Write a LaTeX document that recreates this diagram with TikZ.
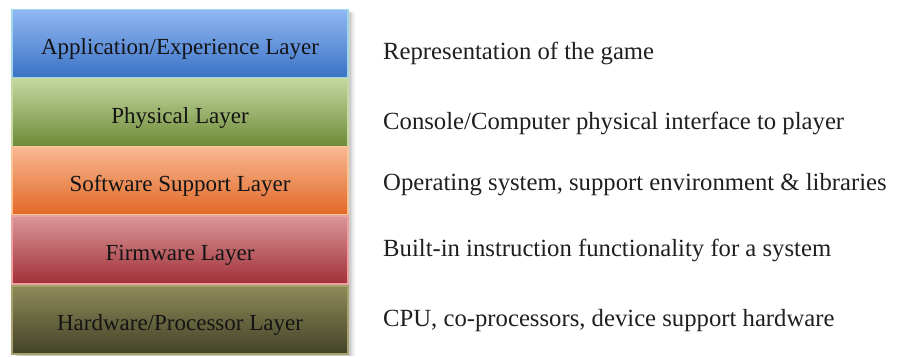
\documentclass[tikz,border=0pt]{standalone}
\usepackage{fontspec}
\setmainfont{Liberation Serif}
\begin{document}
\begin{tikzpicture}[x=1pt,y=-1pt,
  layer/.style={minimum width=336pt,inner sep=0pt,text height=44.5pt,text depth=23.5pt,
    line width=1.3pt,font=\fontsize{23}{26}\selectfont,text=black!92},
  desc/.style={anchor=base west,inner sep=0pt,font=\fontsize{24.7}{28}\selectfont,text=black!88}
]
\useasboundingbox (0,0) rectangle (910,356);

% soft shadow behind the stack
\foreach \d/\o in {7/0.04,5.5/0.05,4/0.06,2.5/0.07}
  \fill[black,opacity=\o] (12+\d,10+\d*0.4) rectangle (348+\d,356);

\node[layer,top color={rgb,255:red,146;green,184;blue,244},bottom color={rgb,255:red,58;green,114;blue,196},
      draw={rgb,255:red,160;green,214;blue,232}] (app) at (180,43.5) {Application/Experience Layer};
\node[layer,top color={rgb,255:red,198;green,216;blue,160},bottom color={rgb,255:red,108;green,138;blue,56},
      draw={rgb,255:red,196;green,218;blue,160}] (phy) at (180,112.5) {Physical Layer};
\node[layer,top color={rgb,255:red,247;green,184;blue,146},bottom color={rgb,255:red,226;green,104;blue,38},
      draw={rgb,255:red,250;green,196;blue,150}] (sw) at (180,181) {Software Support Layer};
\node[layer,top color={rgb,255:red,218;green,150;blue,152},bottom color={rgb,255:red,160;green,48;blue,56},
      draw={rgb,255:red,236;green,160;blue,160}] (fw) at (180,250) {Firmware Layer};
\node[layer,top color={rgb,255:red,142;green,138;blue,88},bottom color={rgb,255:red,66;green,66;blue,40},
      draw={rgb,255:red,166;green,162;blue,110}] (hw) at (180,320) {Hardware/Processor Layer};

\node[desc] (dapp) at (383,59.5) {Representation of the game};
\node[desc] (dphy) at (383,129) {Console/Computer physical interface to player};
\node[desc] (dsw) at (383,190) {Operating system, support environment \& libraries};
\node[desc] (dfw) at (383,256.5) {Built-in instruction functionality for a system};
\node[desc] (dhw) at (383,326) {CPU, co-processors, device support hardware};
\end{tikzpicture}
\end{document}
